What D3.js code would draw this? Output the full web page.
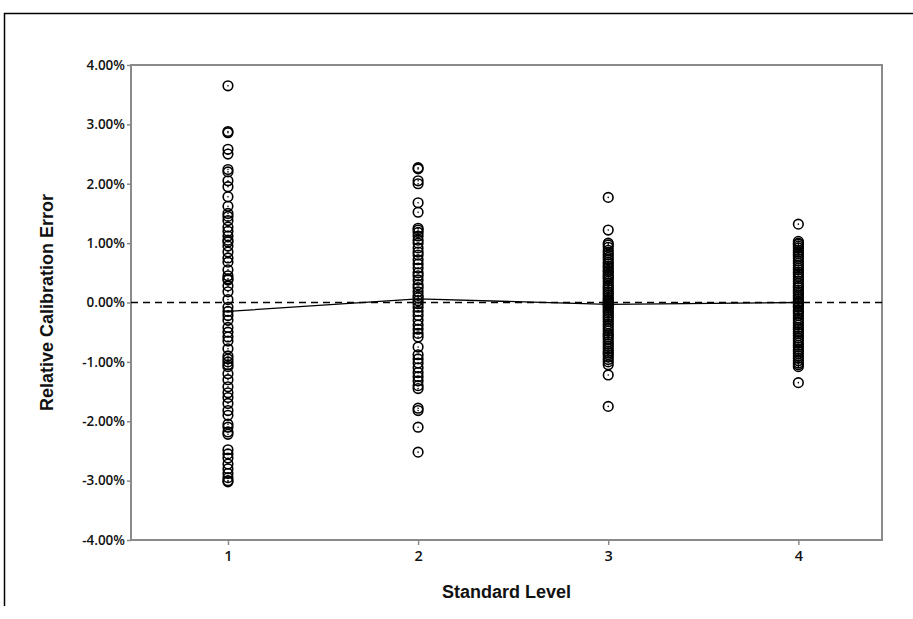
<!DOCTYPE html>
<html>
<head>
<meta charset="utf-8">
<script src="https://cdn.jsdelivr.net/npm/d3@7"></script>
<style>
  body { margin: 0; background: #fff; }
  svg { display: block; }
</style>
</head>
<body>
<div id="chart"></div>
<script>
// standard levels on the x axis
let levels = [1, 2, 3, 4];

// relative calibration error (%) for each level
let level1 = [3.65, 2.88, 2.86, 2.58, 2.50, 2.24, 2.20, 2.05, 1.95, 1.78, 1.62, 1.50, 1.45, 1.38, 1.27, 1.20,
    1.12, 1.05, 1.02, 0.95, 0.85, 0.75, 0.68, 0.55, 0.45, 0.40, 0.38, 0.28, 0.18, 0.05, -0.08, -0.15, -0.22,
    -0.30, -0.42, -0.50, -0.58, -0.65, -0.78, -0.90, -0.95, -1.00, -1.05, -1.08, -1.20, -1.30, -1.42, -1.52,
    -1.60, -1.70, -1.82, -1.90, -2.05, -2.10, -2.18, -2.22, -2.48, -2.55, -2.62, -2.72, -2.80, -2.88,
    -2.95, -3.00, -3.02];
let level2 = [2.27, 2.25, 2.05, 2.00, 1.68, 1.52, 1.25, 1.22, 1.18, 1.12, 1.05, 1.00, 0.92, 0.85, 0.80,
    0.72, 0.65, 0.58, 0.50, 0.45, 0.38, 0.30, 0.25, 0.18, 0.12, 0.08, 0.03, -0.02, -0.08, -0.15, -0.22,
    -0.30, -0.38, -0.45, -0.52, -0.58, -0.75, -0.88, -0.95, -1.02, -1.10, -1.18, -1.25, -1.32, -1.40,
    -1.45, -1.78, -1.82, -2.10, -2.52];
let level3 = [1.77, 1.22, 1.00, 0.97, 0.93, 0.88, 0.84, 0.80, 0.76, 0.72, 0.68, 0.65, 0.61, 0.58, 0.54,
    0.52, 0.48, 0.45, 0.42, 0.40, 0.36, 0.32, 0.28, 0.25, 0.22, 0.18, 0.15, 0.12, 0.08, 0.05, 0.03, 0.0,
    -0.02, -0.04, -0.06, -0.09, -0.12, -0.15, -0.18, -0.22, -0.25, -0.28, -0.32, -0.36, -0.40, -0.44,
    -0.48, -0.52, -0.55, -0.58, -0.62, -0.66, -0.70, -0.74, -0.78, -0.82, -0.85, -0.88, -0.92, -0.96,
    -1.00, -1.05, -1.22, -1.75];
let level4 = [1.32, 1.03, 1.00, 0.98, 0.95, 0.92, 0.88, 0.85, 0.82, 0.78, 0.74, 0.70, 0.66, 0.62, 0.58,
    0.55, 0.51, 0.48, 0.44, 0.40, 0.36, 0.32, 0.28, 0.25, 0.21, 0.18, 0.15, 0.12, 0.09, 0.06, 0.02, 0.0,
    -0.03, -0.06, -0.08, -0.12, -0.15, -0.18, -0.22, -0.26, -0.30, -0.34, -0.38, -0.42, -0.45, -0.49,
    -0.52, -0.56, -0.60, -0.64, -0.68, -0.72, -0.75, -0.79, -0.82, -0.86, -0.90, -0.94, -0.98, -1.02,
    -1.05, -1.08, -1.35];

// mean per level (the solid line)
let meanValues = [-0.15, 0.06, -0.03, 0.0];

// y tick values
let yTicks = [4, 3, 2, 1, 0, -1, -2, -3, -4];

let allLevels = [level1, level2, level3, level4];

// set the dimensions and margins of the graph
let fullWidth = 913, fullHeight = 619;
let margin = {top: 65, right: 31, bottom: 79, left: 131},
    width = fullWidth - margin.left - margin.right,
    height = fullHeight - margin.top - margin.bottom;

let root = d3.select("#chart")
    .append("svg")
    .attr("width", fullWidth)
    .attr("height", fullHeight);

// outer frame lines (top and left)
root.append("path")
    .attr("d", "M4.5,606 L4.5,13.5 L913,13.5")
    .attr("fill", "none")
    .attr("stroke", "#000")
    .attr("stroke-width", 1.5);

let svg = root.append("g")
    .attr("transform", "translate(" + margin.left + "," + margin.top + ")");

let x = d3.scaleLinear()
    .domain([0.49, 4.44])
    .range([0, width]);

let y = d3.scaleLinear()
    .domain([-4, 4])
    .range([height, 0]);

let tickFont = "'Open Sans', sans-serif";

// Y axis
let yAxis = svg.append("g")
    .call(d3.axisLeft(y).tickValues(yTicks).tickSize(4).tickFormat(function(d) { return d.toFixed(2) + "%"; }));
yAxis.select(".domain").remove();
yAxis.selectAll(".tick line").attr("stroke", "#8a8a8a").attr("stroke-width", 1.5);
yAxis.selectAll(".tick text")
    .attr("x", -6)
    .style("font-family", tickFont)
    .style("font-weight", "600")
    .style("font-size", "13.5px")
    .attr("fill", "#111");

// X axis
let xAxis = svg.append("g")
    .attr("transform", "translate(0," + height + ")")
    .call(d3.axisBottom(x).tickValues(levels).tickSize(5).tickFormat(d3.format("d")));
xAxis.select(".domain").remove();
xAxis.selectAll(".tick line").attr("stroke", "#8a8a8a").attr("stroke-width", 1.5);
xAxis.selectAll(".tick text")
    .attr("y", 11)
    .style("font-family", tickFont)
    .style("font-weight", "600")
    .style("font-size", "14.5px")
    .attr("fill", "#111");

// plot frame
svg.append("rect")
    .attr("x", 0)
    .attr("y", 0)
    .attr("width", width)
    .attr("height", height)
    .attr("fill", "none")
    .attr("stroke", "#8a8a8a")
    .attr("stroke-width", 2);

// zero reference line
svg.append("line")
    .attr("x1", 0)
    .attr("x2", width)
    .attr("y1", y(0))
    .attr("y2", y(0))
    .attr("stroke", "#000")
    .attr("stroke-width", 1.3)
    .attr("stroke-dasharray", "7,5");

// mean line
svg.append("path")
    .datum(meanValues)
    .attr("fill", "none")
    .attr("stroke", "#000")
    .attr("stroke-width", 1.3)
    .attr("d", d3.line()
        .x(function(d, i) { return x(levels[i]); })
        .y(function(d) { return y(d); })
    );

// flatten points
let points = [];
allLevels.forEach(function(vals, i) {
    vals.forEach(function(v) { points.push({level: levels[i], value: v}); });
});

// open circle markers
svg.selectAll("circle.pt")
    .data(points)
    .enter()
    .append("circle")
    .attr("class", "pt")
    .attr("cx", function(d) { return x(d.level); })
    .attr("cy", function(d) { return y(d.value); })
    .attr("r", 4.8)
    .attr("fill", "none")
    .attr("stroke", "#000")
    .attr("stroke-width", 1.6);

// small centre dots
svg.selectAll("circle.dot")
    .data(points)
    .enter()
    .append("circle")
    .attr("class", "dot")
    .attr("cx", function(d) { return x(d.level); })
    .attr("cy", function(d) { return y(d.value); })
    .attr("r", 0.8)
    .attr("fill", "#000");

// axis titles
svg.append("text")
    .attr("x", width / 2)
    .attr("y", height + 58)
    .attr("text-anchor", "middle")
    .style("font-family", "'Liberation Sans', Arial, sans-serif")
    .style("font-weight", "bold")
    .style("font-size", "18px")
    .attr("fill", "#111")
    .text("Standard Level");

svg.append("text")
    .attr("transform", "translate(" + (-78) + "," + (height / 2) + ") rotate(-90)")
    .attr("text-anchor", "middle")
    .style("font-family", "'Liberation Sans', Arial, sans-serif")
    .style("font-weight", "bold")
    .style("font-size", "18px")
    .attr("fill", "#111")
    .text("Relative Calibration Error");
</script>
</body>
</html>
